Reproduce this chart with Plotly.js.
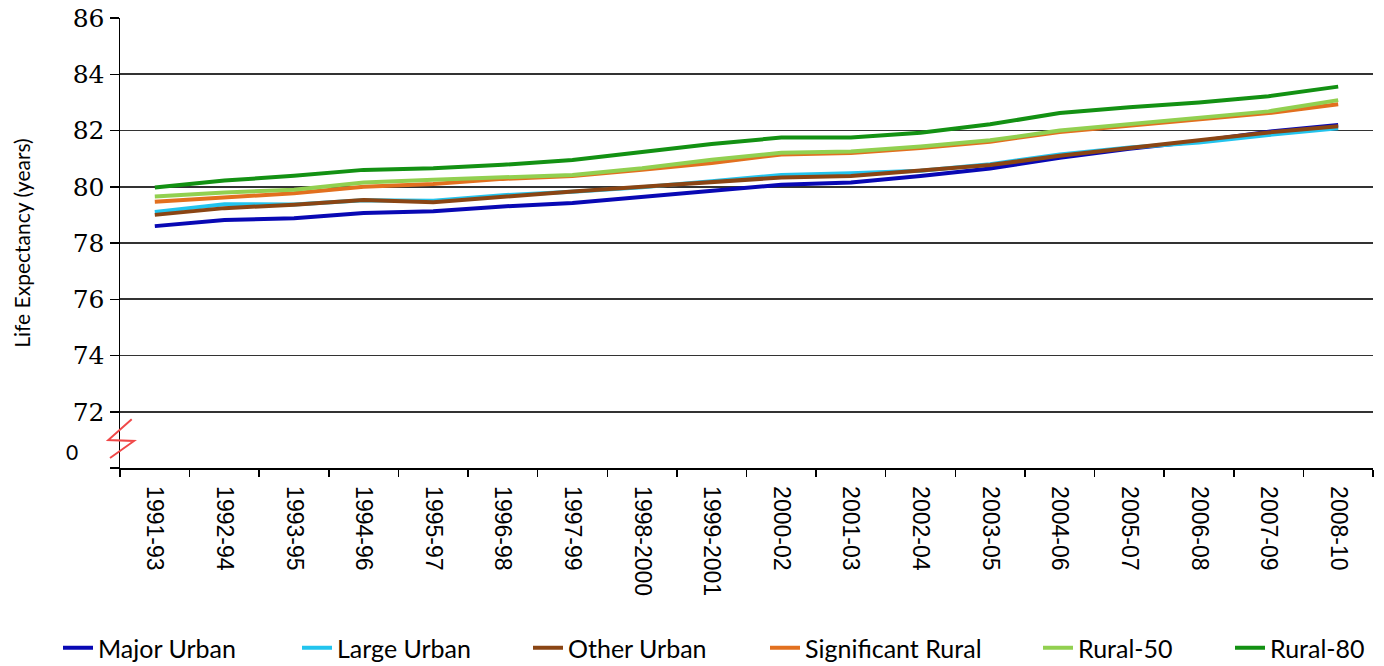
<!DOCTYPE html>
<html>
<head>
<meta charset="utf-8">
<script src="https://cdn.plot.ly/plotly-3.0.1.min.js"></script>
<style>html,body{margin:0;padding:0;background:#fff;}#chart{width:1384px;height:666px;}</style>
</head>
<body>
<div id="chart"></div>
<script>
const periods = ["1991-93","1992-94","1993-95","1994-96","1995-97","1996-98","1997-99","1998-2000","1999-2001","2000-02","2001-03","2002-04","2003-05","2004-06","2005-07","2006-08","2007-09","2008-10"];
const majorUrban = [78.60,78.82,78.88,79.07,79.13,79.30,79.42,79.63,79.84,80.07,80.15,80.38,80.65,81.03,81.35,81.62,81.96,82.20];
const largeUrban = [79.10,79.38,79.37,79.52,79.50,79.70,79.82,79.98,80.20,80.42,80.48,80.57,80.80,81.15,81.40,81.57,81.84,82.08];
const otherUrban = [79.00,79.24,79.36,79.53,79.45,79.65,79.83,80.00,80.15,80.33,80.38,80.57,80.77,81.10,81.37,81.64,81.93,82.15];
const significantRural = [79.47,79.63,79.77,80.00,80.10,80.28,80.38,80.60,80.84,81.15,81.20,81.38,81.60,81.95,82.18,82.38,82.62,82.93];
const rural50 = [79.65,79.80,79.89,80.15,80.25,80.34,80.42,80.66,80.96,81.21,81.25,81.43,81.65,82.00,82.22,82.44,82.68,83.08];
const rural80 = [79.97,80.22,80.39,80.60,80.66,80.78,80.95,81.25,81.52,81.75,81.75,81.92,82.22,82.62,82.83,83.00,83.22,83.56];
const seriesNames = ["Major Urban","Large Urban","Other Urban","Significant Rural","Rural-50","Rural-80"];
const seriesValues = [majorUrban, largeUrban, otherUrban, significantRural, rural50, rural80];
const yTickVals = [70,72,74,76,78,80,82,84,86];
const yTickText = ["","72","74","76","78","80","82","84","86"];
const brokenAxisLabel = "0";

const colors = ["#0808b4","#22c4ee","#8a4514","#e2701f","#92d050","#139113"];
const legendIds = ["legend","legend2","legend3","legend4","legend5","legend6"];
const legendTextPx = [98,337,568,805,1078,1270];

const traces = seriesNames.map((n,i)=>({
  type:"scatter", mode:"lines", name:n, x:periods, y:seriesValues[i],
  line:{color:colors[i], width:4}, legend:legendIds[i], hoverinfo:"x+y+name"
}));

const plotL = 120, plotW = 1253;
const layout = {
  width:1384, height:666,
  margin:{l:120, r:11, t:18, b:198, autoexpand:false},
  paper_bgcolor:"#fff", plot_bgcolor:"#fff",
  xaxis:{type:"category", range:[-0.5,17.5], automargin:false, tickson:"boundaries", ticks:"outside", ticklen:7, tickcolor:"#000", tickwidth:1.5,
    showline:true, linecolor:"#000", linewidth:1.5, showgrid:false, zeroline:false, tickangle:90, ticklabelstandoff:12,
    tickfont:{family:"Liberation Sans, Arial, sans-serif", size:23, color:"#000"}},
  yaxis:{range:[70,86], autorange:false, automargin:false, tickvals:yTickVals, ticktext:yTickText, ticks:"outside", ticklen:9, tickcolor:"#000", tickwidth:1.5,
    showline:true, linecolor:"#000", linewidth:1.5, showgrid:true, gridcolor:"#333", gridwidth:1.6, zeroline:false,
    tickfont:{family:"DejaVu Serif, serif", size:25, color:"#000"},
    title:{text:"Life Expectancy (years)", font:{family:"Lato, sans-serif", size:21, color:"#000"}, standoff:36}},
  showlegend:true,
  annotations:[{xref:"paper", yref:"y", x:(72-plotL)/plotW, y:70.58, text:brokenAxisLabel, showarrow:false,
    font:{family:"Lato, sans-serif", size:21, color:"#000"}, xanchor:"center", yanchor:"middle"}],
  shapes:[{type:"path", layer:"above", xref:"paper", yref:"y", xsizemode:"pixel", ysizemode:"pixel", xanchor:0, yanchor:70,
    path:"M11.7,48.7 L-11.7,28 L14,27 L-10,10", line:{color:"#f04848", width:2}}]
};
legendIds.forEach((id,i)=>{
  layout[id] = {orientation:"h", xref:"container", yref:"container", x:(legendTextPx[i]-40)/1384, xanchor:"left", y:1-648/666, yanchor:"middle",
    bgcolor:"rgba(0,0,0,0)", borderwidth:0, font:{family:"Lato, sans-serif", size:25, color:"#000"}};
});
Plotly.newPlot("chart", traces, layout, {displayModeBar:false, staticPlot:true});
</script>
</body>
</html>
